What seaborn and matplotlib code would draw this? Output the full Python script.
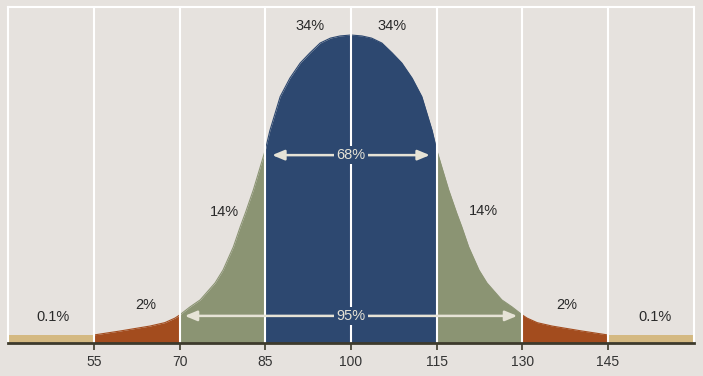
import matplotlib
matplotlib.use("Agg")
import matplotlib.pyplot as plt
import seaborn as sns
import numpy as np

# ---- data ----
curve_x = [55, 59.6, 64.8, 67.4, 69.2, 70, 71.8, 73.6, 76.2, 77.6, 79.4, 80.6, 81.5,
           82.9, 84.1, 85, 85.8, 87.6, 89.3, 91.1, 92.8, 94.6, 96.4, 98.1, 100,
           101.9, 103.6, 105.4, 107.2, 108.9, 110.7, 112.4, 114.2, 115, 115.9, 117.1,
           118.5, 119.4, 120.6, 122.4, 123.8, 126.4, 128.2, 130, 130.8, 132.6, 135.2,
           140.4, 145]
curve_h = [0.026, 0.039, 0.055, 0.066, 0.081, 0.091, 0.117, 0.140, 0.195, 0.237, 0.312,
           0.377, 0.422, 0.497, 0.571, 0.627, 0.69, 0.80, 0.86, 0.909, 0.942, 0.974,
           0.990, 0.997, 1.0,
           0.997, 0.990, 0.974, 0.942, 0.909, 0.86, 0.80, 0.69, 0.627, 0.571, 0.497,
           0.422, 0.377, 0.312, 0.237, 0.195, 0.140, 0.117, 0.091, 0.081, 0.066, 0.055,
           0.039, 0.026]
band_height = 0.026
x_range = [40, 160]
tick_values = [55, 70, 85, 100, 115, 130, 145]
grid_values = [55, 70, 85, 100, 115, 130, 145]

region_bounds = [(55, 70), (70, 85), (85, 115), (115, 130), (130, 145)]
region_colors = ["#a34c1e", "#8b9473", "#2d4870", "#8b9473", "#a34c1e"]

labels = ["34%", "34%", "14%", "14%", "2%", "2%", "0.1%", "0.1%"]
label_x = [92.8, 107.2, 77.8, 123.1, 64.0, 137.7, 47.8, 153.2]
label_y = [1.03, 1.03, 0.425, 0.428, 0.123, 0.123, 0.084, 0.084]

arrow_labels = ["68%", "95%"]
arrow_from = [86.2, 70.9]
arrow_to = [113.8, 129.1]
arrow_y = [0.61, 0.088]

BG = "#e6e2de"
TAN = "#d4b982"
AXIS = "#3d3a2c"
ARROW = "#e6e3d6"

sns.set_theme(style="white")
plt.rcParams["font.family"] = ["Liberation Sans", "DejaVu Sans"]

fig = plt.figure(figsize=(7.03, 3.76), dpi=100, facecolor=BG)
ax = fig.add_axes([0.0118, 0.0878, 0.975, 0.8936])
ax.set_facecolor(BG)

x = np.array(curve_x)
h = np.array(curve_h)

# tan base band
ax.fill_between(x_range, 0, band_height, color=TAN, lw=0, zorder=1)

for (a, b), c in zip(region_bounds, region_colors):
    m = (x >= a) & (x <= b)
    ax.fill_between(x[m], 0, h[m], color=c, lw=0, zorder=2)
    sns.lineplot(x=x[m], y=h[m], ax=ax, color=c, lw=0.8, zorder=2)

for g in grid_values:
    ax.axvline(g, color="white", lw=1.5, zorder=3)

for t, lx, ly in zip(labels, label_x, label_y):
    ax.text(lx, ly, t, ha="center", va="center", fontsize=10.5, color="#2a2a2a", zorder=5)

for t, a, b, yy in zip(arrow_labels, arrow_from, arrow_to, arrow_y):
    ax.annotate("", xy=(a, yy), xytext=(b, yy),
                arrowprops=dict(arrowstyle="<|-|>,head_length=0.6,head_width=0.25",
                                color=ARROW, lw=1.8, shrinkA=0, shrinkB=0),
                zorder=4)
    ax.text(100, yy, t, ha="center", va="center", fontsize=10.5, color=ARROW, zorder=6,
            bbox=dict(boxstyle="square,pad=0.15", fc="#2d4870", ec="none"))

ax.set_xlim(*x_range)
ax.set_ylim(0, 1.091)
ax.set_xticks(tick_values)
ax.set_xticklabels([str(v) for v in tick_values])
ax.set_yticks([])
ax.tick_params(axis="x", length=5, width=1.2, color=AXIS, direction="out",
               labelsize=10, labelcolor="#333333", pad=4, bottom=True)
ax.set_xlabel("")
ax.set_ylabel("")

for s in ["top", "left", "right"]:
    ax.spines[s].set_color("white")
    ax.spines[s].set_linewidth(1.5)
ax.spines["bottom"].set_color(AXIS)
ax.spines["bottom"].set_linewidth(2)
ax.spines["bottom"].set_zorder(7)

fig.savefig("out.png", dpi=100, facecolor=BG)
